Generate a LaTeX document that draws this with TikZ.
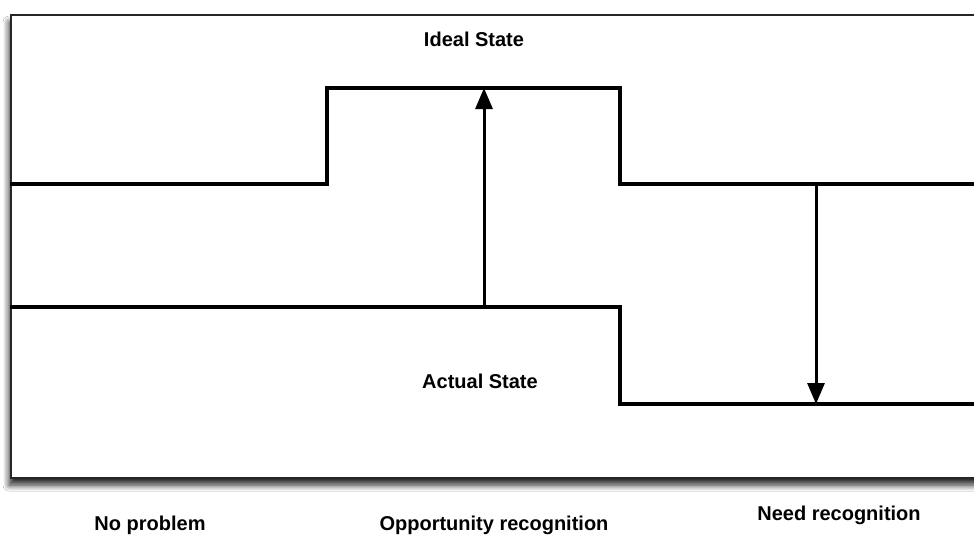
\documentclass[tikz,border=0pt]{standalone}
\usepackage{fontspec}
\setmainfont{Liberation Sans}
\usetikzlibrary{arrows.meta,shadows.blur}
\begin{document}
\begin{tikzpicture}[x=1pt,y=-1pt,
  level/.style={line width=3.2pt, line join=miter},
  gaparrow/.style={line width=3pt, -{Triangle[width=17pt,length=21pt]}},
  lbl/.style={font=\fontsize{20}{24}\selectfont\bfseries, inner sep=0pt, anchor=base},
  frame/.style={draw=black!85, line width=2.2pt, fill=white,
    blur shadow={shadow xshift=-2pt, shadow yshift=-7pt, shadow blur steps=12, shadow blur radius=6pt, shadow opacity=85}}]
\useasboundingbox (0,0) rectangle (974,538);
\clip (0,0) rectangle (974,538);
\fill[white] (0,0) rectangle (974,538);
% frame
\node[frame, minimum width=980pt, minimum height=463pt, anchor=north west, inner sep=0pt] (box) at (10,14) {};
% ideal state line
\coordinate (i0) at (10,184);
\coordinate (i1) at (327,184);
\coordinate (i2) at (327,88);
\coordinate (i3) at (620,88);
\coordinate (i4) at (620,184);
\coordinate (i5) at (990,184);
\draw[level] (i0) -- (i1) -- (i2) -- (i3) -- (i4) -- (i5);
% actual state line
\coordinate (a0) at (10,307);
\coordinate (a1) at (620,307);
\coordinate (a2) at (620,404);
\coordinate (a3) at (990,404);
\draw[level] (a0) -- (a1) -- (a2) -- (a3);
% gap arrows
\coordinate (upS) at (484,307);
\coordinate (upE) at (484,88);
\coordinate (dnS) at (816,184);
\coordinate (dnE) at (816,404);
\draw[gaparrow] (upS) -- (upE);
\draw[gaparrow] (dnS) -- (dnE);
% labels
\node[lbl] (ideal) at (474,46) {Ideal State};
\node[lbl] (actual) at (480,388) {Actual State};
\node[lbl] (nop) at (150,530) {No problem};
\node[lbl] (opp) at (494,530) {Opportunity recognition};
\node[lbl] (need) at (839,520) {Need recognition};
\end{tikzpicture}
\end{document}
